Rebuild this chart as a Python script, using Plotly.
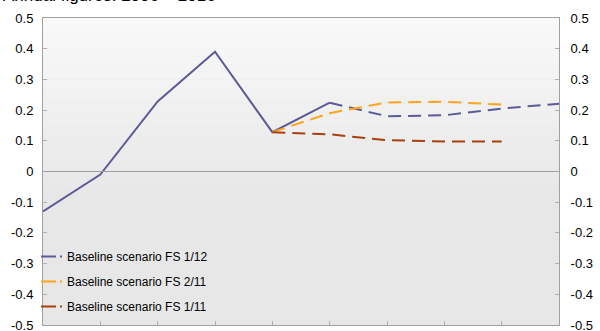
import plotly.graph_objects as go

years = [2006, 2007, 2008, 2009, 2010, 2011, 2012, 2013, 2014, 2015]
fs112_hist = [-0.13, -0.01, 0.228, 0.39, 0.128, 0.224]
fs112_proj = [0.224, 0.18, 0.183, 0.205, 0.221]
fs211 = [0.128, 0.19, 0.225, 0.227, 0.218]
fs111 = [0.128, 0.121, 0.102, 0.098, 0.098]
yticks = [0.5, 0.4, 0.3, 0.2, 0.1, 0, -0.1, -0.2, -0.3, -0.4, -0.5]
ytick_text = ["0.5", "0.4", "0.3", "0.2", "0.1", "0", "-0.1", "-0.2", "-0.3", "-0.4", "-0.5"]
title = "Annual figures. 2006 – 2016"
names = ["Baseline scenario FS 1/12", "Baseline scenario FS 2/11", "Baseline scenario FS 1/11"]

c_purple = "#5B5B99"
c_orange = "#FFA31A"
c_red = "#A8400C"
colors = [c_purple, c_orange, c_red]
dash = "13px,7px"
legend_dash = "0px,9px,15px,4px,2px,100px"

fig = go.Figure()
fig.add_trace(go.Scatter(x=years[:6], y=fs112_hist, mode="lines",
                         line=dict(color=c_purple, width=2), showlegend=False))
fig.add_trace(go.Scatter(x=years[5:], y=fs112_proj, mode="lines", name=names[0],
                         showlegend=False,
                         line=dict(color=c_purple, width=2, dash=dash)))
fig.add_trace(go.Scatter(x=years[4:9], y=fs211, mode="lines", name=names[1],
                         showlegend=False,
                         line=dict(color=c_orange, width=2, dash=dash)))
fig.add_trace(go.Scatter(x=years[4:9], y=fs111, mode="lines", name=names[2],
                         showlegend=False,
                         line=dict(color=c_red, width=2, dash=dash)))
# legend entries
for i, (nm, col) in enumerate(zip(names, colors)):
    fig.add_trace(go.Scatter(x=[None], y=[None], mode="lines", name=nm,
                             legendgroup=f"g{i}",
                             line=dict(color=col, width=2, dash=legend_dash)))
# invisible trace for right axis
fig.add_trace(go.Scatter(x=[years[0]], y=[0], yaxis="y2", mode="lines",
                         line=dict(width=0), showlegend=False, hoverinfo="skip"))

# gradient background
n = 24
for i in range(n):
    y0 = 1 - i / n * 0.6
    y1 = 1 - (i + 1) / n * 0.6
    t = i / (n - 1)
    v = int(round(249 - (249 - 231) * t))
    fig.add_shape(type="rect", xref="paper", yref="paper", x0=0, x1=1, y0=y1, y1=y0,
                  fillcolor=f"rgb({v},{v},{v})", line_width=0, layer="below")
fig.add_shape(type="rect", xref="paper", yref="paper", x0=0, x1=1, y0=0, y1=0.4,
              fillcolor="rgb(231,231,231)", line_width=0, layer="below")

axis_common = dict(range=[-0.5, 0.5], tickvals=yticks, ticktext=ytick_text,
                   ticks="inside", ticklen=4, tickcolor="#b0b0b0",
                   showgrid=False, zeroline=False, showline=True, linecolor="#a0a0a0",
                   linewidth=1, tickfont=dict(family="Liberation Sans, Arial", size=13, color="#000"),
                   ticklabeloverflow="allow", automargin=False, fixedrange=True)

fig.update_layout(
    width=600, height=331,
    margin=dict(l=43, r=41, t=18, b=6, autoexpand=False),
    paper_bgcolor="white",
    plot_bgcolor="rgb(231,231,231)",
    font=dict(family="Liberation Sans, Arial", size=12, color="#000"),
    xaxis=dict(range=[2006, 2015], tickvals=years, ticks="inside", ticklen=4,
               tickcolor="#b0b0b0", showticklabels=False, showgrid=False, zeroline=False,
               showline=True, linecolor="#a0a0a0", mirror=True, fixedrange=True,
               automargin=False),
    yaxis=dict(side="left", ticklabelstandoff=6, **axis_common),
    yaxis2=dict(side="right", overlaying="y", ticklabelstandoff=8, **axis_common),
    legend=dict(x=-16/516, y=0.27, xanchor="left", yanchor="top", bgcolor="rgba(0,0,0,0)",
                traceorder="grouped", tracegroupgap=6, itemwidth=30,
                font=dict(size=12)),
    shapes=list(fig.layout.shapes) + [
        dict(type="line", xref="paper", yref="y", x0=0, x1=1, y0=0, y1=0,
             line=dict(color="#a0a0a0", width=1)),
    ],
    annotations=[dict(text=title, xref="paper", yref="paper", x=-42/516, y=1,
                      xanchor="left", yanchor="bottom", yshift=11, showarrow=False,
                      font=dict(size=17))],
)

fig.write_html("out.html", config={"displayModeBar": False},
               post_script="document.body.style.margin='0';")
